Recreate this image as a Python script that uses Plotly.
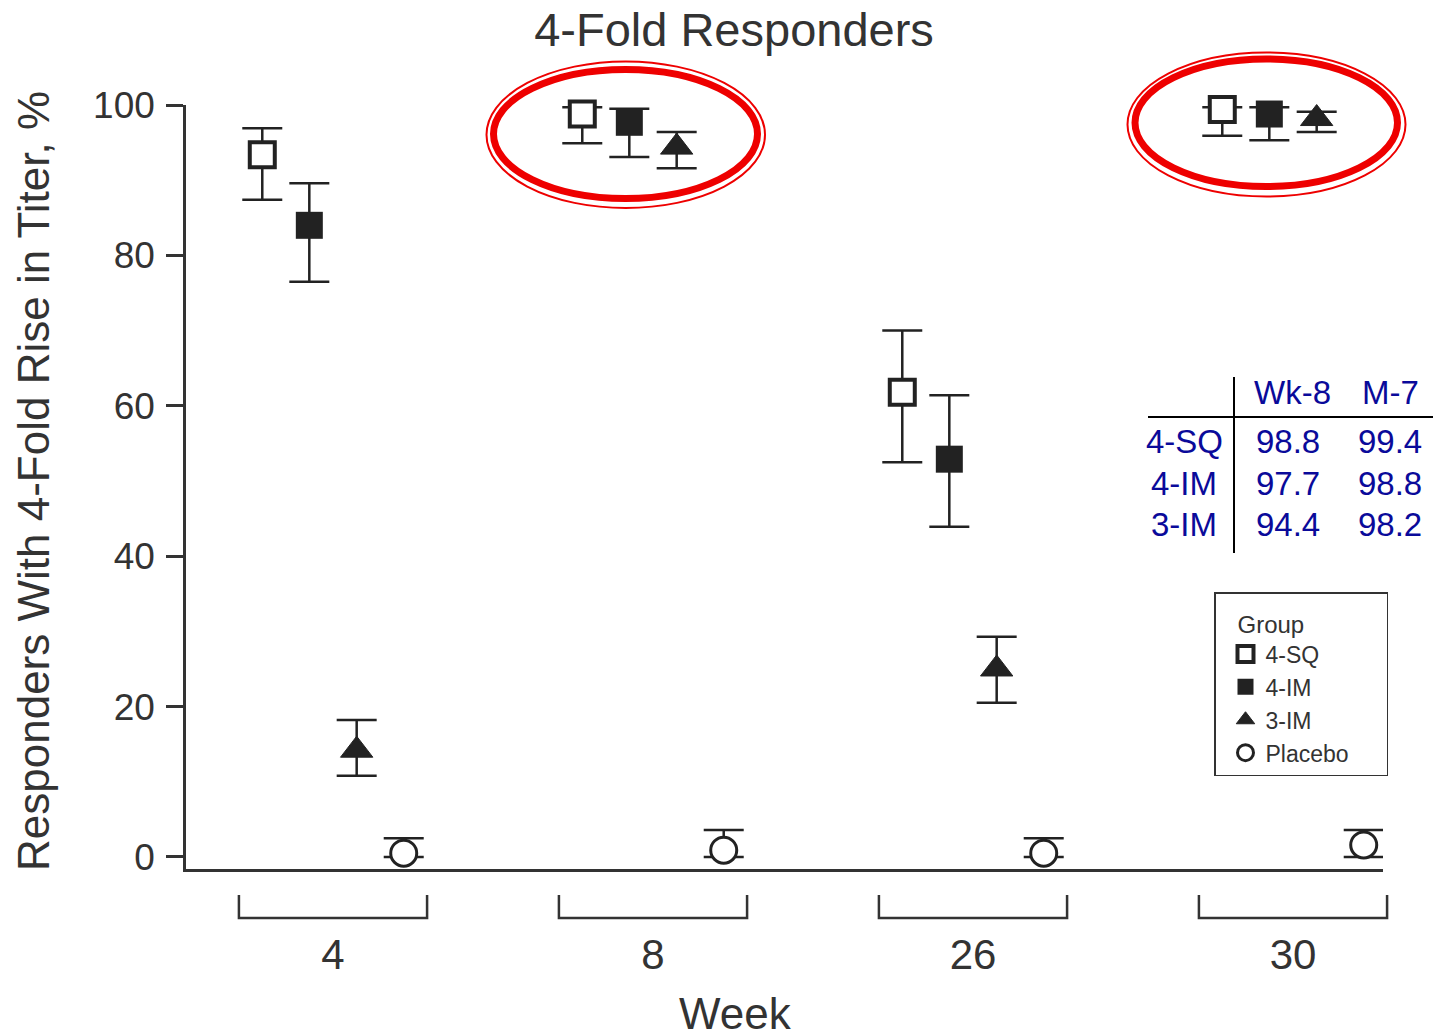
import plotly.graph_objects as go

# ---------------- data ----------------
weeks = ["4", "8", "26", "30"]
groups = ["4-SQ", "4-IM", "3-IM", "Placebo"]

sq4_val = [93.4, 98.8, 61.8, 99.4]
sq4_lo = [87.4, 94.9, 52.5, 95.9]
sq4_hi = [96.9, 99.7, 70.0, 99.7]

im4_val = [84.0, 97.7, 52.9, 98.8]
im4_lo = [76.5, 93.1, 43.9, 95.3]
im4_hi = [89.6, 99.5, 61.4, 99.7]

im3_val = [14.2, 94.4, 25.0, 98.2]
im3_lo = [10.8, 91.6, 20.5, 96.4]
im3_hi = [18.2, 96.4, 29.3, 99.1]

pl_val = [0.5, 0.9, 0.5, 1.6]
pl_lo = [0.0, 0.0, 0.0, 0.0]
pl_hi = [2.5, 3.6, 2.5, 3.6]

table_groups = ["4-SQ", "4-IM", "3-IM"]
table_cols = ["Wk-8", "M-7"]
table_wk8 = [98.8, 97.7, 94.4]
table_m7 = [99.4, 98.8, 98.2]

y_ticks = [0, 20, 40, 60, 80, 100]

# ---------------- layout helpers ----------------
W, H = 1433, 1034
PL, PR, PT, PB = 186, 1383, 105, 869  # plot area in pixels
XR = [(PL - 333) / 320, (PR - 333) / 320]  # x axis range (group index units)


def px2x(px):
    return (px - PL) / (PR - PL)


def py2y(py):
    return (PB - py) / (PB - PT)


def dx2paper(v):
    return (v - XR[0]) / (XR[1] - XR[0])


offsets = [-0.221, -0.074, 0.074, 0.221]
centers = list(range(len(weeks)))
TXT = "#333333"
INK = "#222222"
FONT = "Liberation Sans, Arial, Helvetica, sans-serif"

series = [
    (groups[0], sq4_val, sq4_lo, sq4_hi, dict(symbol="square", size=25, color="white",
                                              line=dict(color=INK, width=4))),
    (groups[1], im4_val, im4_lo, im4_hi, dict(symbol="square", size=27, color=INK,
                                              line=dict(color=INK, width=0))),
    (groups[2], im3_val, im3_lo, im3_hi, dict(symbol="triangle-up", size=28, color=INK,
                                              line=dict(color=INK, width=1))),
    (groups[3], pl_val, pl_lo, pl_hi, dict(symbol="circle", size=26, color="white",
                                           line=dict(color=INK, width=3))),
]

fig = go.Figure()
for k, (name, val, lo, hi, mk) in enumerate(series):
    xs = [c + offsets[k] for c in centers]
    fig.add_trace(go.Scatter(
        x=xs, y=val, name=name, mode="markers", marker=mk, cliponaxis=False,
        error_y=dict(type="data", symmetric=False,
                     array=[h - v for h, v in zip(hi, val)],
                     arrayminus=[v - l for v, l in zip(val, lo)],
                     color=INK, thickness=2.5, width=20),
    ))

shapes = []
# week brackets under the x axis
for c in centers:
    a, b = dx2paper(c - 0.294), dx2paper(c + 0.294)
    shapes.append(dict(type="path", xref="paper", yref="paper",
                       path=f"M {a},{py2y(895)} L {a},{py2y(918)} "
                            f"L {b},{py2y(918)} L {b},{py2y(895)}",
                       line=dict(color=TXT, width=2.5)))

# red highlight ellipses (inner thick + outer thin)
for (ix0, iy0, ix1, iy1), (ox0, oy0, ox1, oy1) in [
    ((493.5, 69.5, 757.5, 198.5), (486.5, 61.5, 765, 208)),
    ((1135, 59, 1397.5, 186.5), (1127.5, 52.5, 1405.5, 196.5)),
]:
    shapes.append(dict(type="circle", xref="paper", yref="paper",
                       x0=px2x(ix0), x1=px2x(ix1), y0=py2y(iy1), y1=py2y(iy0),
                       line=dict(color="#ee0000", width=7)))
    shapes.append(dict(type="circle", xref="paper", yref="paper",
                       x0=px2x(ox0), x1=px2x(ox1), y0=py2y(oy1), y1=py2y(oy0),
                       line=dict(color="#ee0000", width=2)))

# table rules
shapes.append(dict(type="line", xref="paper", yref="paper",
                   x0=px2x(1148), x1=px2x(1433), y0=py2y(417), y1=py2y(417),
                   line=dict(color="black", width=2)))
shapes.append(dict(type="line", xref="paper", yref="paper",
                   x0=px2x(1234), x1=px2x(1234), y0=py2y(377), y1=py2y(553),
                   line=dict(color="black", width=2)))

annotations = []
BLUE = "#0a0a9a"
TFONT = dict(family=FONT, size=33, color=BLUE)
col_x = [1288, 1390]
row_y = [441, 483, 524]
for j, head in enumerate(table_cols):
    annotations.append(dict(text=head, x=px2x([1292, 1390][j]), y=py2y(393), xref="paper", yref="paper",
                            showarrow=False, xanchor="center", yanchor="middle", font=TFONT))
for i, g in enumerate(table_groups):
    annotations.append(dict(text=g, x=px2x(1184), y=py2y(row_y[i]), xref="paper", yref="paper",
                            showarrow=False, xanchor="center", yanchor="middle", font=TFONT))
    for j, v in enumerate([table_wk8[i], table_m7[i]]):
        annotations.append(dict(text=f"{v:.1f}", x=px2x(col_x[j]),
                                y=py2y(row_y[i]), xref="paper", yref="paper",
                                showarrow=False, xanchor="center", yanchor="middle", font=TFONT))

# axis titles
annotations.append(dict(text="Responders With 4-Fold Rise in Titer, %", textangle=-90,
                        x=px2x(33), y=py2y(481), xref="paper", yref="paper",
                        showarrow=False, xanchor="center", yanchor="middle",
                        font=dict(family=FONT, size=44, color=TXT)))
annotations.append(dict(text="Week", x=px2x(735), y=py2y(1013), xref="paper", yref="paper",
                        showarrow=False, xanchor="center", yanchor="middle",
                        font=dict(family=FONT, size=44, color=TXT)))

legend_title = ("<span style='font-size:24px'>&nbsp;&nbsp;&nbsp;Group"
                + "&nbsp;" * 12 + "</span>")

fig.update_layout(
    width=W, height=H,
    margin=dict(l=PL, r=W - PR, t=PT, b=H - PB, autoexpand=False),
    paper_bgcolor="white", plot_bgcolor="white",
    font=dict(family=FONT, color=TXT),
    title=dict(text="4-Fold Responders", x=734 / W, xanchor="center", xref="container",
               y=1 - 30 / H, yanchor="middle", yref="container",
               font=dict(family=FONT, size=47, color=TXT)),
    xaxis=dict(range=XR, showgrid=False, zeroline=False,
               showline=True, linecolor=TXT, linewidth=2.5,
               tickmode="array", tickvals=centers, ticktext=weeks, ticks="",
               tickfont=dict(family=FONT, size=42, color=TXT), ticklabelstandoff=47),
    yaxis=dict(range=[-1.6, 100], showgrid=False, zeroline=False,
               showline=True, linecolor=TXT, linewidth=2.5,
               tickmode="array", tickvals=y_ticks, ticks="outside", ticklen=17,
               tickwidth=2.5, tickcolor=TXT,
               tickfont=dict(family=FONT, size=37, color=TXT), ticklabelstandoff=4),
    legend=dict(x=px2x(1214), y=py2y(592), xanchor="left", yanchor="top",
                bordercolor=TXT, borderwidth=1.5, bgcolor="white",
                font=dict(family=FONT, size=23, color=TXT),
                title=dict(text=legend_title, font=dict(family=FONT, size=30, color=TXT)),
                indentation=10, tracegroupgap=0),
    showlegend=True,
    shapes=shapes,
    annotations=annotations,
)

fig.write_html("out.html", config={"displayModeBar": False},
               post_script="document.body.style.margin='0';document.body.style.overflow='hidden';")
